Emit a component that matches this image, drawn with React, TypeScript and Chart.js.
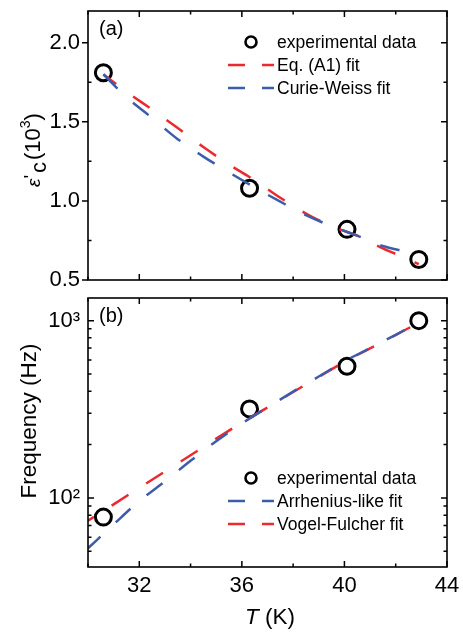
import React, { useEffect, useRef } from 'react';
import { Chart, registerables } from 'chart.js';
Chart.register(...registerables);

// ---------- data ----------
const T_EXP = [30.6, 36.3, 40.1, 42.9];
const EPS_EXP = [1.81, 1.08, 0.82, 0.63];

const T_FIT_A = [30.6, 31.5, 32.5, 33.5, 34.5, 35.5, 36.5, 37.5, 38.5, 39.5, 40.5, 41.5, 42.5, 42.9];
const EPS_A1 = [1.8, 1.69, 1.577, 1.46, 1.34, 1.23, 1.13, 1.02, 0.92, 0.84, 0.78, 0.7, 0.63, 0.6];
const EPS_CW = [1.8, 1.655, 1.524, 1.39, 1.28, 1.18, 1.085, 0.995, 0.91, 0.84, 0.78, 0.715, 0.675, 0.655];

const FREQ_EXP = [78, 318, 553, 1000];
const T_FIT_B = [30.0, 31.0, 32.0, 33.0, 34.0, 35.0, 36.0, 37.0, 38.0, 39.0, 40.0, 41.0, 42.0, 42.9];
const FREQ_ARR = [52, 71, 96, 124, 162, 209, 263, 324, 398, 484, 589, 700, 832, 977];
const FREQ_VF = [74.5, 92, 114, 141, 174, 216, 266, 324, 396, 482, 586, 698, 830, 975];

const X_TICKS = [32, 36, 40, 44];
const X_MINOR = [30, 34, 38, 42];
const EPS_TICKS = [0.5, 1.0, 1.5, 2.0];
const EPS_MINOR = [0.75, 1.25, 1.75];
const FREQ_TICKS = [100, 1000];
const FREQ_MINOR = [50, 60, 70, 80, 90, 200, 300, 400, 500, 600, 700, 800, 900];
const FREQ_LABELS: Record<number, string> = { 100: '10²', 1000: '10³' };

const LEGEND_A = ['experimental data', 'Eq. (A1) fit', 'Curie-Weiss fit'];
const LEGEND_B = ['experimental data', 'Arrhenius-like fit', 'Vogel-Fulcher fit'];

// ---------- style ----------
const FONT = "'Liberation Sans', Arial, Helvetica, sans-serif";
const RED = '#ec2a2e';
const BLUE = '#3d5cab';
const W = 463;
const TOP_Y = 287; // where the lower canvas starts
const H_TOP = 300;
const H_BOT = 633 - TOP_Y;

type Item = { kind: 'circle' | 'line'; color: string; text: string };

function drawLegend(ctx: CanvasRenderingContext2D, items: Item[], rows: number[]) {
  ctx.save();
  ctx.font = `17.5px ${FONT}`;
  ctx.textBaseline = 'middle';
  ctx.textAlign = 'left';
  items.forEach((it, i) => {
    const y = rows[i];
    if (it.kind === 'circle') {
      ctx.beginPath();
      ctx.lineWidth = 2.6;
      ctx.strokeStyle = '#000';
      ctx.arc(251, y, 5.5, 0, Math.PI * 2);
      ctx.stroke();
    } else {
      ctx.beginPath();
      ctx.lineWidth = 2.5;
      ctx.strokeStyle = it.color;
      ctx.moveTo(228, y);
      ctx.lineTo(245, y);
      ctx.moveTo(262, y);
      ctx.lineTo(274, y);
      ctx.stroke();
    }
    ctx.fillStyle = '#000';
    ctx.fillText(it.text, 277, y + 1);
  });
  ctx.restore();
}

function drawFrameTicks(
  chart: any,
  xMajor: number[],
  xMinor: number[],
  yMajor: number[],
  yMinor: number[],
  leftOut: boolean
) {
  const ctx: CanvasRenderingContext2D = chart.ctx;
  const a = chart.chartArea;
  const xs = chart.scales.x;
  const ys = chart.scales.y;
  ctx.save();
  ctx.setLineDash([]);
  ctx.strokeStyle = '#000';
  ctx.lineWidth = 1.6;
  ctx.strokeRect(a.left, a.top, a.right - a.left, a.bottom - a.top);
  ctx.lineWidth = 1.5;
  ctx.beginPath();
  const xt = (v: number, len: number) => {
    const p = xs.getPixelForValue(v);
    ctx.moveTo(p, a.bottom);
    ctx.lineTo(p, a.bottom - len);
    ctx.moveTo(p, a.top);
    ctx.lineTo(p, a.top + len);
  };
  const yt = (v: number, len: number, out: boolean) => {
    const p = ys.getPixelForValue(v);
    if (out) {
      ctx.moveTo(a.left - len, p);
      ctx.lineTo(a.left, p);
    } else {
      ctx.moveTo(a.left, p);
      ctx.lineTo(a.left + len, p);
    }
    ctx.moveTo(a.right, p);
    ctx.lineTo(a.right - len, p);
  };
  xMajor.forEach((v) => xt(v, 6));
  xMinor.forEach((v) => xt(v, 3.5));
  yMajor.forEach((v) => yt(v, 6, leftOut));
  yMinor.forEach((v) => yt(v, 3.5, false));
  ctx.stroke();
  ctx.restore();
}

type Seg = { t: string; font: string; dy: number; gap?: number };
function drawRotated(ctx: CanvasRenderingContext2D, segs: Seg[], cx: number, cy: number) {
  ctx.save();
  ctx.translate(cx, cy);
  ctx.rotate(-Math.PI / 2);
  ctx.fillStyle = '#000';
  ctx.textBaseline = 'alphabetic';
  ctx.textAlign = 'left';
  let total = 0;
  segs.forEach((s) => {
    ctx.font = s.font;
    total += ctx.measureText(s.t).width + (s.gap || 0);
  });
  let x = -total / 2;
  segs.forEach((s) => {
    ctx.font = s.font;
    ctx.fillText(s.t, x, s.dy);
    x += ctx.measureText(s.t).width + (s.gap || 0);
  });
  ctx.restore();
}

const topDecor = {
  id: 'topDecor',
  afterDraw(chart: any) {
    const ctx: CanvasRenderingContext2D = chart.ctx;
    drawFrameTicks(chart, X_TICKS, X_MINOR, EPS_TICKS, EPS_MINOR, true);
    drawLegend(
      ctx,
      [
        { kind: 'circle', color: '#000', text: LEGEND_A[0] },
        { kind: 'line', color: RED, text: LEGEND_A[1] },
        { kind: 'line', color: BLUE, text: LEGEND_A[2] },
      ],
      [42, 65, 88]
    );
    ctx.save();
    ctx.fillStyle = '#000';
    ctx.font = `20px ${FONT}`;
    ctx.textBaseline = 'middle';
    ctx.fillText('(a)', 99, 29);
    ctx.restore();
    drawRotated(
      ctx,
      [
        { t: 'ε', font: `italic 19px ${FONT}`, dy: 0 },
        { t: "'", font: `19px ${FONT}`, dy: -3, gap: 2 },
        { t: 'c', font: `22px ${FONT}`, dy: 6, gap: 2 },
        { t: '(10', font: `22px ${FONT}`, dy: 0 },
        { t: '3', font: `14px ${FONT}`, dy: -10 },
        { t: ')', font: `22px ${FONT}`, dy: 0 },
      ],
      40,
      150
    );
  },
};

const botDecor = {
  id: 'botDecor',
  afterDraw(chart: any) {
    const ctx: CanvasRenderingContext2D = chart.ctx;
    drawFrameTicks(chart, X_TICKS, X_MINOR, FREQ_TICKS, FREQ_MINOR, false);
    drawLegend(
      ctx,
      [
        { kind: 'circle', color: '#000', text: LEGEND_B[0] },
        { kind: 'line', color: BLUE, text: LEGEND_B[1] },
        { kind: 'line', color: RED, text: LEGEND_B[2] },
      ],
      [478 - TOP_Y, 501 - TOP_Y, 524 - TOP_Y]
    );
    ctx.save();
    ctx.fillStyle = '#000';
    ctx.font = `20px ${FONT}`;
    ctx.textBaseline = 'middle';
    ctx.fillText('(b)', 99, 316 - TOP_Y);
    // x title
    ctx.font = `italic 22.5px ${FONT}`;
    ctx.textBaseline = 'alphabetic';
    const w1 = ctx.measureText('T').width;
    ctx.font = `22.5px ${FONT}`;
    const w2 = ctx.measureText(' (K)').width;
    const x0 = 270 - (w1 + w2) / 2;
    ctx.font = `italic 22.5px ${FONT}`;
    ctx.fillText('T', x0, 624 - TOP_Y);
    ctx.font = `22.5px ${FONT}`;
    ctx.fillText(' (K)', x0 + w1, 624 - TOP_Y);
    ctx.restore();
    drawRotated(ctx, [{ t: 'Frequency (Hz)', font: `22.5px ${FONT}`, dy: 0 }], 36, 421 - TOP_Y);
  },
};

const pts = (xs: number[], ys: number[]) => xs.map((x, i) => ({ x, y: ys[i] }));

const expSet = (label: string, data: any[]) => ({
  label,
  data,
  showLine: false,
  pointRadius: 8,
  pointBorderWidth: 3,
  pointBorderColor: '#000',
  pointBackgroundColor: 'rgba(0,0,0,0)',
  order: 3,
});
const fitSet = (label: string, data: any[], color: string, order: number, dashOffset: number) => ({
  label,
  data,
  showLine: true,
  borderColor: color,
  borderWidth: 2.5,
  borderDash: [20, 21],
  borderDashOffset: dashOffset,
  borderCapStyle: 'butt',
  pointRadius: 0,
  cubicInterpolationMode: 'monotone',
  fill: false,
  order,
});

const tickFont = { family: FONT, size: 22 };

const noPad = (s: any) => {
  s.paddingTop = 0;
  s.paddingBottom = 0;
  s.paddingLeft = 0;
  s.paddingRight = 0;
};

export default function App() {
  const topRef = useRef<HTMLCanvasElement>(null);
  const botRef = useRef<HTMLCanvasElement>(null);

  useEffect(() => {
    Chart.defaults.color = '#000';
    const xCommon = (showLabels: boolean, h: number) => ({
      type: 'linear',
      min: 30,
      max: 44,
      grid: { display: false, drawTicks: false },
      border: { display: false },
      ticks: { display: showLabels, font: tickFont, color: '#000', padding: 6, maxRotation: 0, autoSkip: false },
      afterBuildTicks: (s: any) => {
        s.ticks = X_TICKS.map((v) => ({ value: v }));
      },
      afterFit: (s: any) => {
        s.height = h;
        noPad(s);
      },
    });

    const top = new Chart(topRef.current as HTMLCanvasElement, {
      type: 'scatter',
      data: {
        datasets: [
          expSet(LEGEND_A[0], pts(T_EXP, EPS_EXP)),
          fitSet(LEGEND_A[1], pts(T_FIT_A, EPS_A1), RED, 2, 4),
          fitSet(LEGEND_A[2], pts(T_FIT_A, EPS_CW), BLUE, 1, 0),
        ] as any,
      },
      options: {
        responsive: false,
        animation: false,
        events: [],
        layout: { padding: { top: 7, right: 16, left: 0, bottom: 0 } },
        plugins: { legend: { display: false }, tooltip: { enabled: false } },
        scales: {
          x: xCommon(false, H_TOP - 280) as any,
          y: {
            type: 'linear',
            min: 0.5,
            max: 2.2,
            grid: { display: false, drawTicks: false },
            border: { display: false },
            ticks: {
              font: tickFont,
              color: '#000',
              padding: 8,
              autoSkip: false,
              callback: (v: any) => Number(v).toFixed(1),
            },
            afterBuildTicks: (s: any) => {
              s.ticks = EPS_TICKS.map((v) => ({ value: v }));
            },
            afterFit: (s: any) => {
              s.width = 88;
              noPad(s);
            },
          } as any,
        },
      },
      plugins: [topDecor],
    });

    const bot = new Chart(botRef.current as HTMLCanvasElement, {
      type: 'scatter',
      data: {
        datasets: [
          expSet(LEGEND_B[0], pts(T_EXP, FREQ_EXP)),
          fitSet(LEGEND_B[2], pts(T_FIT_B, FREQ_VF), RED, 2, 13),
          fitSet(LEGEND_B[1], pts(T_FIT_B, FREQ_ARR), BLUE, 1, 3),
        ] as any,
      },
      options: {
        responsive: false,
        animation: false,
        events: [],
        layout: { padding: { top: 7, right: 16, left: 0, bottom: 0 } },
        plugins: { legend: { display: false }, tooltip: { enabled: false } },
        scales: {
          x: xCommon(true, 66) as any,
          y: {
            type: 'logarithmic',
            min: 40.8,
            max: 1342,
            grid: { display: false, drawTicks: false },
            border: { display: false },
            ticks: {
              font: tickFont,
              color: '#000',
              padding: 8,
              autoSkip: false,
              callback: (v: any) => FREQ_LABELS[Number(v)] || '',
            },
            afterBuildTicks: (s: any) => {
              s.ticks = FREQ_TICKS.map((v) => ({ value: v }));
            },
            afterFit: (s: any) => {
              s.width = 88;
              noPad(s);
            },
          } as any,
        },
      },
      plugins: [botDecor],
    });

    return () => {
      top.destroy();
      bot.destroy();
    };
  }, []);

  return (
    <div style={{ position: 'absolute', left: 0, top: 0, width: W, height: 633, background: '#fff' }}>
      <canvas ref={topRef} width={W} height={H_TOP} style={{ position: 'absolute', left: 0, top: 0, width: W, height: H_TOP }} />
      <canvas ref={botRef} width={W} height={H_BOT} style={{ position: 'absolute', left: 0, top: TOP_Y, width: W, height: H_BOT }} />
    </div>
  );
}
